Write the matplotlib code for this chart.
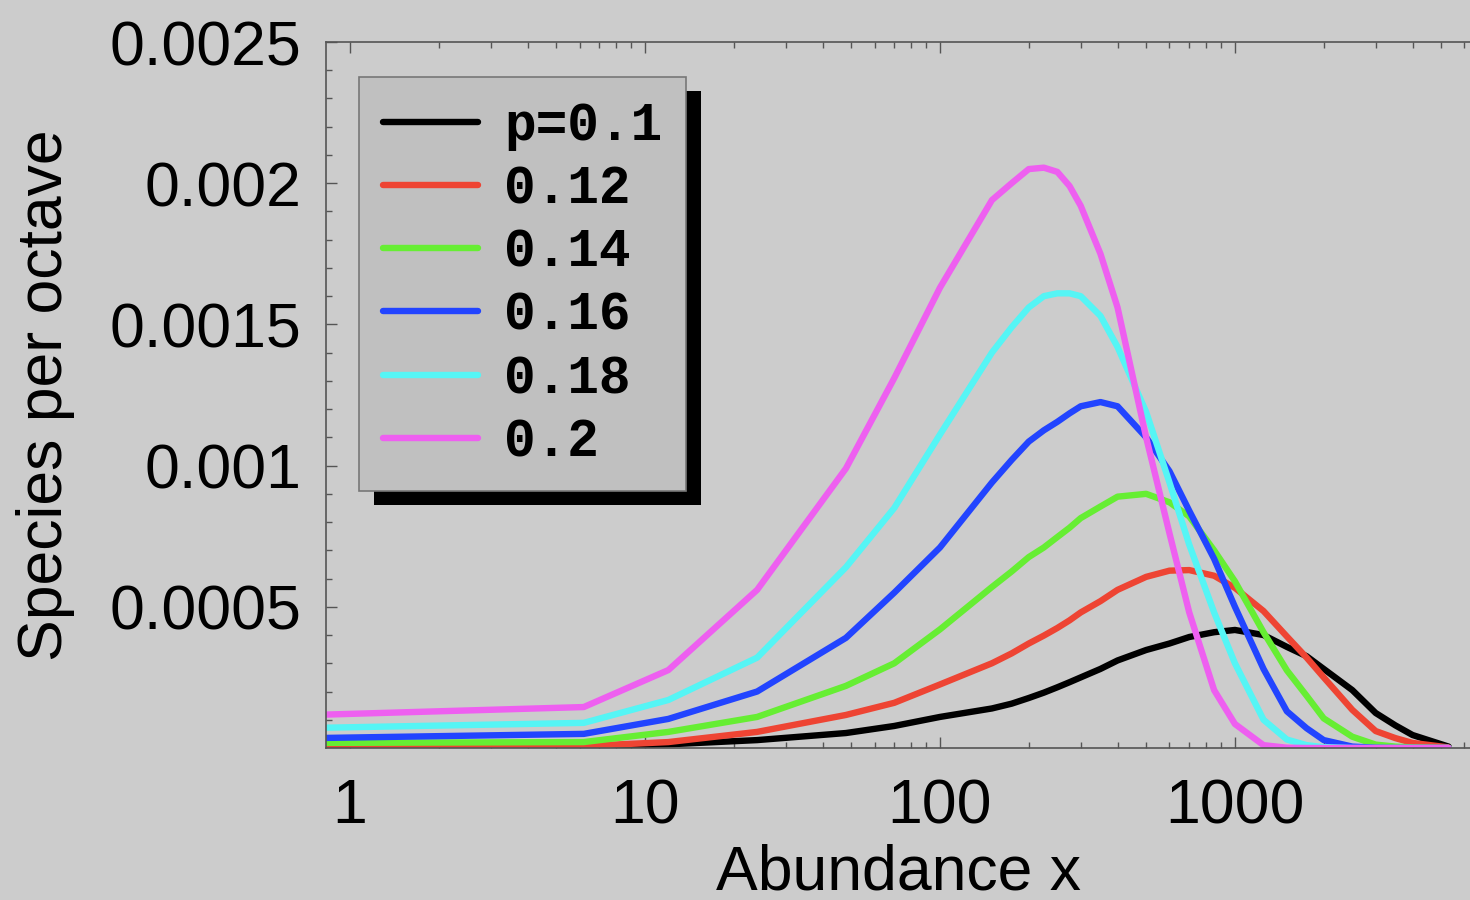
import numpy as np
import matplotlib
matplotlib.use('Agg')
from matplotlib import pyplot as plt
from matplotlib.patches import Rectangle
from matplotlib.ticker import FixedLocator, NullFormatter

# abundance values (log axis) where the curves were read
abundance = [0.75, 6.2, 12, 24, 48, 70, 100, 150, 175, 200, 225, 250, 275, 300, 350, 400,
             500, 600, 700, 850, 1000, 1250, 1500, 1750, 2000, 2500, 3000, 3500, 4000, 5300]

# species per octave, in units of 1e-4
p010 = [0.02, 0.05, 0.13, 0.28, 0.53, 0.78, 1.1, 1.4, 1.57, 1.77, 1.96, 2.15, 2.33, 2.5, 2.8, 3.1,
        3.47, 3.7, 3.93, 4.1, 4.18, 4.0, 3.58, 3.25, 2.8, 2.05, 1.24, 0.8, 0.46, 0.05]
p012 = [0.05, 0.07, 0.21, 0.57, 1.17, 1.6, 2.25, 3.0, 3.35, 3.7, 3.98, 4.25, 4.52, 4.8, 5.2, 5.6,
        6.06, 6.28, 6.3, 6.1, 5.67, 4.85, 3.95, 3.2, 2.5, 1.35, 0.6, 0.35, 0.18, 0.02]
p014 = [0.18, 0.21, 0.57, 1.1, 2.2, 3.0, 4.2, 5.7, 6.25, 6.76, 7.1, 7.47, 7.8, 8.14, 8.55, 8.9,
        9.0, 8.7, 8.2, 7.0, 5.9, 4.1, 2.75, 1.85, 1.05, 0.4, 0.12, 0.05, 0.02, 0.0]
p016 = [0.35, 0.5, 1.03, 2.0, 3.9, 5.5, 7.1, 9.4, 10.2, 10.85, 11.25, 11.55, 11.85, 12.1, 12.25, 12.1,
        11.0, 9.8, 8.4, 6.7, 5.0, 2.8, 1.3, 0.7, 0.28, 0.05, 0.01, 0.0, 0.0, 0.0]
p018 = [0.71, 0.89, 1.7, 3.2, 6.4, 8.5, 11.1, 14.0, 14.9, 15.6, 16.0, 16.1, 16.1, 16.0, 15.3, 14.2,
        11.9, 9.4, 7.2, 4.8, 3.0, 1.0, 0.3, 0.1, 0.03, 0.0, 0.0, 0.0, 0.0, 0.0]
p020 = [1.17, 1.45, 2.76, 5.6, 9.9, 13.1, 16.3, 19.4, 20.0, 20.5, 20.55, 20.4, 19.9, 19.2, 17.5, 15.6,
        11.0, 7.6, 4.8, 2.05, 0.85, 0.1, 0.01, 0.0, 0.0, 0.0, 0.0, 0.0, 0.0, 0.0]

series = [p010, p012, p014, p016, p018, p020]
labels = ['p=0.1', '0.12', '0.14', '0.16', '0.18', '0.2']
colors = ['#000000', '#ee4433', '#66ee33', '#2244ff', '#55f5f5', '#ee5ff0']

yticks = [0.0005, 0.001, 0.0015, 0.002, 0.0025]
ytick_labels = ['0.0005', '0.001', '0.0015', '0.002', '0.0025']
xticks = [1, 10, 100, 1000]
xtick_labels = ['1', '10', '100', '1000']

bg = '#cccccc'
plt.rcParams['font.family'] = ['Liberation Sans', 'DejaVu Sans']

fig = plt.figure(figsize=(14.7, 9), dpi=100, facecolor=bg)
ax = fig.add_axes([326/1470, 152/900, 1144/1470, 706/900])
ax.set_facecolor(bg)

for vals, lab, col in zip(series, labels, colors):
    ax.plot(abundance, np.array(vals) * 1e-4, color=col, lw=4.6, label=lab,
            solid_capstyle='round', solid_joinstyle='round')

ax.set_xscale('log')
ax.set_xlim(0.829, 6265)
ax.set_ylim(0, 0.0025)

ax.set_xticks(xticks)
ax.set_xticklabels(xtick_labels)
ax.xaxis.set_minor_locator(FixedLocator([m * 10**e for e in range(0, 4) for m in range(2, 10)]))
ax.xaxis.set_minor_formatter(NullFormatter())
ax.set_yticks(yticks)
ax.set_yticklabels(ytick_labels)
ax.yaxis.set_minor_locator(FixedLocator(np.arange(1, 25) * 1e-4))

ax.tick_params(which='both', direction='in', top=True, right=False, color='#555555', width=1)
ax.tick_params(which='major', length=8)
ax.tick_params(which='minor', length=4)
ax.tick_params(axis='x', which='major', labelsize=45, pad=21)
ax.tick_params(axis='y', which='major', labelsize=45, pad=18)

for side in ['left', 'bottom', 'top']:
    ax.spines[side].set_color('#555555')
    ax.spines[side].set_linewidth(1.2)
ax.spines['right'].set_visible(False)

ax.set_xlabel('Abundance x', fontsize=45)
ax.set_ylabel('Species per octave', fontsize=45)
ax.xaxis.set_label_coords(0.5, -0.135)
ax.yaxis.set_label_coords(-0.219, 0.5)

leg = ax.legend(loc='upper left', bbox_to_anchor=(0.0288, 0.950), borderaxespad=0,
                prop={'family': 'Liberation Mono', 'weight': 'bold', 'size': 38},
                handlelength=1.8, handletextpad=0.5, labelspacing=0.25,
                borderpad=0.45, fancybox=False, framealpha=1)
leg.get_frame().set_facecolor('#c0c0c0')
leg.get_frame().set_edgecolor('#777777')
leg.get_frame().set_linewidth(1.2)
leg.set_zorder(6)

# black drop shadow behind the legend box
fig.canvas.draw()
bb = leg.get_window_extent(fig.canvas.get_renderer())
inv = ax.transAxes.inverted()
(x0, y0), (x1, y1) = inv.transform([[bb.x0 + 15, bb.y0 - 14], [bb.x1 + 15, bb.y1 - 14]])
ax.add_patch(Rectangle((x0, y0), x1 - x0, y1 - y0, transform=ax.transAxes,
                       facecolor='black', edgecolor='none', zorder=5.5, clip_on=False))

fig.savefig('out.png', dpi=100, facecolor=bg)
